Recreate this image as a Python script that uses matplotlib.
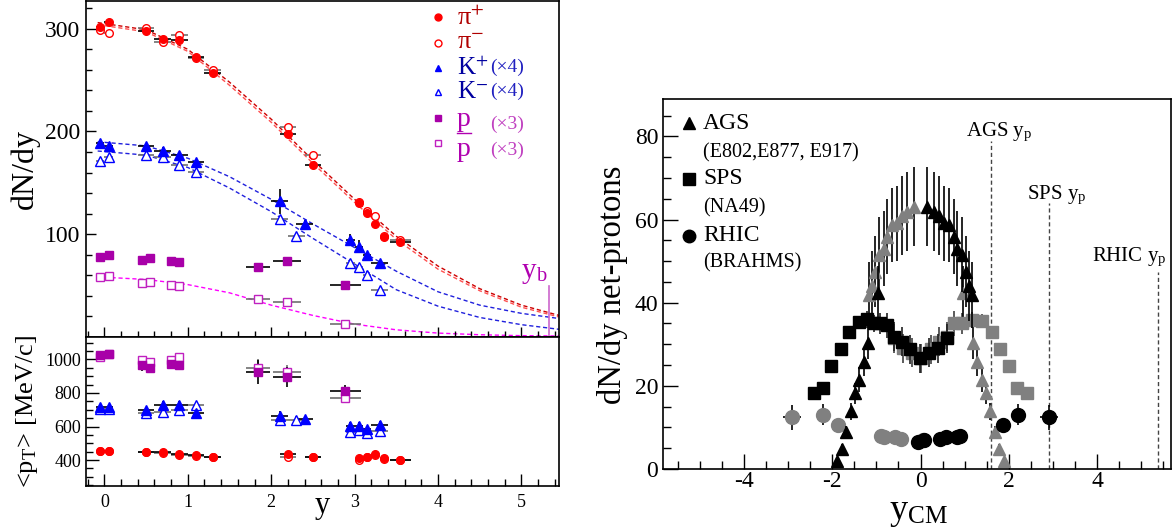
import matplotlib.pyplot as plt
from matplotlib.ticker import MultipleLocator

plt.rcParams["font.family"] = ["Liberation Serif", "DejaVu Serif"]
plt.rcParams["mathtext.fontset"] = "stix"
plt.rcParams["axes.unicode_minus"] = False

# ---------------- left panel data (BRAHMS spectra vs rapidity) ----------------
pi_rap = [-0.05, 0.05, 0.5, 0.7, 0.9, 1.1, 1.3, 2.2, 2.5, 3.05, 3.15, 3.25, 3.35, 3.55]
pi_xerr = [0.05, 0.05, 0.1, 0.1, 0.1, 0.1, 0.1, 0.1, 0.1, 0.0, 0.0, 0.0, 0.0, 0.12]
pip_dndy = [302, 306.5, 298, 290, 289, 272.5, 257, 198, 167, 130, 121, 110, 97, 92]
pim_dndy = [299, 296, 300.5, 287, 293.5, 271.5, 259.5, 204, 177, 131.5, 123, 118, 98, 94]
pip_pt = [454, 454, 450, 446, 434, 428, 418, 434, 420, 410, 420, 434, 410, 400]
pim_pt = [452, 452, 448, 444, 432, 426, 416, 416, 418, 400, 416, 430, 408, 398]

kp_rap = [-0.05, 0.05, 0.5, 0.7, 0.9, 1.1, 2.1, 2.4, 2.95, 3.05, 3.15, 3.3]
km_rap = [-0.05, 0.05, 0.5, 0.7, 0.9, 1.1, 2.1, 2.3, 2.95, 3.05, 3.15, 3.3]
k_xerr = [0.05, 0.05, 0.1, 0.1, 0.1, 0.1, 0.1, 0.1, 0.05, 0.05, 0.05, 0.1]
kp_dndy = [189, 186, 186, 181.5, 177, 170.5, 132, 110, 94.5, 88, 80, 72]
km_dndy = [171, 175.5, 177, 175.5, 167, 161, 115, 98.5, 72.5, 68, 60.5, 45.5]
kp_dndy_err = [3, 3, 3, 3, 3, 3, 12, 4, 6, 6, 3, 3]
km_dndy_err = [2, 2, 2, 2, 2, 2, 3, 3, 3, 3, 3, 3]
kp_pt = [714, 714, 696, 730, 730, 680, 660, 644, 604, 604, 584, 610]
km_pt = [704, 704, 680, 684, 696, 730, 640, 640, 570, 580, 560, 576]
kp_pt_err = [15, 15, 20, 25, 25, 20, 30, 20, 25, 25, 20, 20]
km_pt_err = [10, 10, 15, 20, 20, 15, 20, 20, 20, 20, 15, 15]

p_rap = [-0.05, 0.05, 0.45, 0.55, 0.8, 0.9, 1.84, 2.19, 2.89]
p_xerr = [0.05, 0.05, 0.05, 0.05, 0.05, 0.05, 0.14, 0.17, 0.19]
pbar_dndy = [78, 79.6, 75, 76.4, 74, 73, 68.6, 74, 50.5]
p_dndy = [58.6, 59, 53, 53.7, 51, 49.5, 37, 34.3, 13]
pbar_pt = [1028, 1030, 964, 948, 974, 968, 924, 894, 810]
p_pt = [1014, 1030, 998, 984, 998, 1014, 950, 924, 770]
pbar_pt_err = [15, 15, 30, 30, 30, 30, 70, 60, 40]
p_pt_err = [10, 10, 20, 20, 20, 20, 50, 40, 30]

# dashed fit curves
fit_rap = [-0.08, 0.5, 1.0, 1.5, 2.0, 2.5, 3.0, 3.5, 4.0, 4.5, 5.0, 5.45]
pip_fit = [306, 299, 280, 248, 212, 172, 134, 98, 69, 47, 31, 21]
pim_fit = [304, 297, 278, 245, 209, 169, 131, 95, 66, 45, 29, 19.5]
kp_fit = [190, 186, 174, 156, 134, 110, 87, 64, 44, 31, 23, 18]
km_fit = [181, 177, 165, 145, 122, 96, 71, 46, 30, 19, 12, 7.5]
p_fit = [58.5, 56, 51, 43, 31, 21, 12.5, 7, 3.8, 2.2, 1.3, 1.0]

beam_rap = 5.33

# ---------------- right panel data (net protons vs y_CM) ----------------
ags_y = [-1.89, -1.77, -1.68, -1.58, -1.49, -1.39, -1.28, -1.18, -0.97,
         0.15, 0.30, 0.41, 0.53, 0.64, 0.75, 0.83, 0.94, 1.02, 1.09, 1.17]
ags_dndy = [1.9, 4.9, 8.9, 13.9, 18.2, 21.5, 25.8, 30.4, 42.3,
            63.1, 61.9, 60.9, 59.1, 58.7, 55.9, 53.0, 51.5, 47.5, 44.0, 41.9]
ags_err = [0.8, 1.0, 1.5, 2.0, 2.5, 3.0, 3.5, 4.0, 6.5,
           9.5, 9.5, 9.5, 9.0, 9.0, 9.0, 9.0, 9.0, 8.5, 8.5, 8.0]
ags_refl_y = [-1.17, -1.09, -1.02, -0.94, -0.83, -0.75, -0.64, -0.53, -0.41, -0.30, -0.15,
              0.97, 1.18, 1.28, 1.39, 1.49, 1.58, 1.68, 1.77, 1.89]
ags_refl_dndy = [41.9, 44.0, 47.5, 51.5, 53.0, 55.9, 58.7, 59.1, 60.9, 61.9, 63.1,
                 42.3, 30.4, 25.8, 21.5, 18.2, 13.9, 8.9, 4.9, 1.9]
ags_refl_err = [8.0, 8.5, 8.5, 9.0, 9.0, 9.0, 9.0, 9.0, 9.5, 9.5, 9.5,
                6.5, 4.0, 3.5, 3.0, 2.5, 2.0, 1.5, 1.0, 0.8]

sps_y = [-2.42, -2.21, -2.02, -1.81, -1.61, -1.40, -1.21, -1.06, -0.91, -0.75,
         -0.60, -0.41, -0.23, -0.02, 0.19, 0.39, 0.60]
sps_dndy = [18.2, 19.4, 24.8, 28.8, 33.0, 35.4, 36.0, 35.0, 35.0, 34.6,
            31.8, 30.6, 28.8, 26.6, 28.0, 29.0, 31.4]
sps_err = [1.5, 1.5, 1.0, 1.0, 1.0, 1.5, 2.0, 2.0, 2.5, 3.0,
           3.5, 3.5, 3.5, 3.5, 3.5, 3.5, 3.5]
sps_refl_y = [-0.60, -0.39, -0.19, 0.02, 0.23, 0.41, 0.60, 0.75, 0.94, 1.17,
              1.40, 1.62, 1.81, 2.00, 2.19, 2.40]
sps_refl_dndy = [31.4, 29.0, 28.0, 26.6, 28.8, 30.6, 31.8, 35.0, 35.0, 35.8,
                 35.7, 33.0, 28.8, 24.7, 19.4, 18.2]
sps_refl_err = [3.5, 3.5, 3.5, 3.5, 3.5, 3.5, 3.5, 3.0, 2.5, 2.0,
                1.5, 1.0, 1.0, 1.0, 1.5, 1.5]

rhic_y = [-0.05, 0.08, 0.45, 0.57, 0.83, 0.90, 1.86, 2.21, 2.91]
rhic_dndy = [6.5, 6.9, 7.3, 7.7, 7.7, 7.9, 10.5, 13.1, 12.5]
rhic_err = [0.5, 0.5, 0.5, 0.5, 0.5, 0.5, 1.5, 2.5, 3.0]
rhic_xerr = [0, 0, 0, 0, 0, 0, 0, 0.1, 0.2]
rhic_refl_y = [-2.91, -2.21, -1.86, -0.90, -0.83, -0.57, -0.45, 0.05]
rhic_refl_dndy = [12.5, 13.1, 10.5, 7.9, 7.7, 7.7, 7.3, 6.9]
rhic_refl_err = [3.0, 2.5, 1.5, 0.5, 0.5, 0.5, 0.5, 0.5]
rhic_refl_xerr = [0.2, 0.1, 0, 0, 0, 0, 0, 0]

proj_rap = [1.6, 2.9, 5.37]
proj_line_top = [79, 64, 47.5]
proj_labels = ["AGS y$_\\mathregular{p}$", "SPS y$_\\mathregular{p}$", "RHIC y$_\\mathregular{p}$"]

RED = "#ff0000"
BLUE = "#0000ff"
MAG = "#a800a8"
MAG_OPEN = "#c020c0"
GRAY = "#808080"


def draw_points(ax, x, y, xerr, yerr, marker, color, filled, ms, ecolor, z=3):
    ax.errorbar(x, y, xerr=xerr, yerr=yerr, fmt=marker, ms=ms,
                mfc=color if filled else "white", mec=color, mew=1.0,
                ecolor=ecolor, elinewidth=1.2, capsize=0, zorder=z)


W, H = 1174, 527


def px_rect(x0, y0, x1, y1):
    return [x0 / W, 1 - y1 / H, (x1 - x0) / W, (y1 - y0) / H]


fig = plt.figure(figsize=(11.74, 5.27), dpi=100)
ax_top = fig.add_axes(px_rect(86, 1, 559, 337))
ax_bot = fig.add_axes(px_rect(86, 337, 559, 486))
ax_r = fig.add_axes(px_rect(663, 99, 1171, 469))

# ---- top-left: dN/dy
dash = (0, (3, 2))
ax_top.plot(fit_rap, pip_fit, color="#cc0000", lw=1.0, ls=dash, zorder=1)
ax_top.plot(fit_rap, pim_fit, color="#ff5050", lw=1.0, ls=dash, zorder=1)
ax_top.plot(fit_rap, kp_fit, color="#2020dd", lw=1.0, ls=dash, zorder=1)
ax_top.plot(fit_rap, km_fit, color="#2020dd", lw=1.0, ls=dash, zorder=1)
ax_top.plot(fit_rap, p_fit, color="#ff00ff", lw=1.0, ls=dash, zorder=1)

draw_points(ax_top, pi_rap, pim_dndy, pi_xerr, None, "o", RED, False, 5.5, "#707070")
draw_points(ax_top, pi_rap, pip_dndy, pi_xerr, None, "o", RED, True, 5.5, "black")
draw_points(ax_top, km_rap, km_dndy, k_xerr, km_dndy_err, "^", BLUE, False, 6.5, "#707070")
draw_points(ax_top, kp_rap, kp_dndy, k_xerr, kp_dndy_err, "^", BLUE, True, 6.5, "black")
draw_points(ax_top, p_rap, p_dndy, p_xerr, None, "s", MAG_OPEN, False, 5.5, "#707070")
draw_points(ax_top, p_rap, pbar_dndy, p_xerr, None, "s", MAG, True, 5.5, "black")

ax_top.plot([beam_rap, beam_rap], [0, 50], color="#cc66cc", lw=1.2)
ax_top.text(5.0, 57, "y$_\\mathregular{b}$", color="#b000b0", fontsize=21, ha="left", va="baseline")

ax_top.set_xlim(-0.22, 5.45)
ax_top.set_ylim(0, 327)
ax_top.yaxis.set_minor_locator(MultipleLocator(20))
ax_top.xaxis.set_major_locator(MultipleLocator(1))
ax_top.xaxis.set_minor_locator(MultipleLocator(0.2))
ax_top.set_yticks([100, 200, 300])
ax_top.tick_params(which="both", direction="in", labelbottom=False, labelsize=17, pad=4)
ax_top.tick_params(which="major", length=7, width=1)
ax_top.tick_params(which="minor", length=4, width=1)
ax_top.set_ylabel("dN/dy", fontsize=23)
ax_top.yaxis.set_label_coords(-0.129, 0.5)
ax_top.yaxis.label.set_verticalalignment("center")

# legend, left panel
leg_rows = [0.951, 0.876, 0.80, 0.73, 0.651, 0.576]
leg_marks = [("o", RED, True), ("o", RED, False), ("^", BLUE, True),
             ("^", BLUE, False), ("s", MAG, True), ("s", MAG_OPEN, False)]
for yf, (m, c, f) in zip(leg_rows, leg_marks):
    ax_top.plot([0.7435], [yf], marker=m, ms=5, mfc=c if f else "white", mec=c,
                transform=ax_top.transAxes, clip_on=False, ls="none")
ax_top.text(0.784, leg_rows[0], "π$^{+}$", color="#b00000", fontsize=19, va="center", transform=ax_top.transAxes)
ax_top.text(0.784, leg_rows[1], "π$^{-}$", color="#b00000", fontsize=19, va="center", transform=ax_top.transAxes)
ax_top.text(0.784, leg_rows[2], "K$^{+}$", color="#0000a0", fontsize=18, va="center", transform=ax_top.transAxes)
ax_top.text(0.784, leg_rows[3], "K$^{-}$", color="#0000a0", fontsize=18, va="center", transform=ax_top.transAxes)
ax_top.text(0.784, 0.6265, "p", color="#b000b0", fontsize=20, va="baseline", transform=ax_top.transAxes)
ax_top.plot([0.784, 0.813], [0.607, 0.607], color="#b000b0", lw=1.0, transform=ax_top.transAxes)
ax_top.text(0.784, 0.540, "p", color="#b000b0", fontsize=20, va="baseline", transform=ax_top.transAxes)
for yf, txt, col in [(0.802, "(×4)", "#2020c0"), (0.732, "(×4)", "#2020c0"),
                     (0.634, "(×3)", "#c040c0"), (0.557, "(×3)", "#c040c0")]:
    ax_top.text(0.854, yf, txt, color=col, fontsize=14, va="center", transform=ax_top.transAxes)

# ---- bottom-left: <pT>
draw_points(ax_bot, pi_rap, pim_pt, pi_xerr, None, "o", RED, False, 5.5, "#707070")
draw_points(ax_bot, pi_rap, pip_pt, pi_xerr, None, "o", RED, True, 5.5, "black")
draw_points(ax_bot, km_rap, km_pt, k_xerr, km_pt_err, "^", BLUE, False, 6.5, "#707070")
draw_points(ax_bot, kp_rap, kp_pt, k_xerr, kp_pt_err, "^", BLUE, True, 6.5, "black")
draw_points(ax_bot, p_rap, p_pt, p_xerr, p_pt_err, "s", MAG_OPEN, False, 5.5, "#707070")
draw_points(ax_bot, p_rap, pbar_pt, p_xerr, pbar_pt_err, "s", MAG, True, 5.5, "black")

ax_bot.set_xlim(-0.22, 5.45)
ax_bot.set_ylim(245, 1134)
ax_bot.set_yticks([400, 600, 800, 1000])
ax_bot.yaxis.set_minor_locator(MultipleLocator(50))
ax_bot.xaxis.set_major_locator(MultipleLocator(1))
ax_bot.xaxis.set_minor_locator(MultipleLocator(0.2))
ax_bot.tick_params(which="both", direction="in", labelsize=13)
ax_bot.tick_params(axis="x", pad=6)
ax_bot.tick_params(which="major", length=9, width=1)
ax_bot.tick_params(which="minor", length=5, width=1)
ax_bot.set_ylabel("<p$_\\mathregular{T}$> [MeV/c]", fontsize=19)
ax_bot.yaxis.set_label_coords(-0.125, 0.5)
ax_bot.yaxis.label.set_verticalalignment("center")
ax_bot.set_xlabel("y", fontsize=22)
ax_bot.xaxis.set_label_coords(0.5, -0.13)
ax_bot.xaxis.label.set_verticalalignment("center")

# ---- right: net protons
ax_r.vlines(proj_rap, 0, proj_line_top, colors="#444444", lw=1.0, linestyles=dash)
label_pos = [(1.02, 80), (2.42, 64.9), (3.89, 49.9)]
for (lx, ly), txt in zip(label_pos, proj_labels):
    ax_r.text(lx, ly, txt, fontsize=15, ha="left", va="baseline")

draw_points(ax_r, sps_refl_y, sps_refl_dndy, None, sps_refl_err, "s", GRAY, True, 8, "#404040", z=2)
draw_points(ax_r, ags_refl_y, ags_refl_dndy, None, ags_refl_err, "^", GRAY, True, 9, "black", z=2)
draw_points(ax_r, rhic_refl_y, rhic_refl_dndy, rhic_refl_xerr, rhic_refl_err, "o", GRAY, True, 10, "black", z=2)
draw_points(ax_r, sps_y, sps_dndy, None, sps_err, "s", "black", True, 8, "#202020", z=3)
draw_points(ax_r, ags_y, ags_dndy, None, ags_err, "^", "black", True, 9, "black", z=3)
draw_points(ax_r, rhic_y, rhic_dndy, rhic_xerr, rhic_err, "o", "black", True, 10, "black", z=3)

r_leg = [(0.935, "^", "AGS", 0.855, "(E802,E877, E917)"),
         (0.784, "s", "SPS", 0.705, "(NA49)"),
         (0.630, "o", "RHIC", 0.556, "(BRAHMS)")]
for yf, m, name, yf2, sub in r_leg:
    ax_r.plot([0.052], [yf], marker=m, ms=9, color="black", ls="none",
              transform=ax_r.transAxes, clip_on=False)
    ax_r.text(0.079, yf, name, fontsize=17, va="center", transform=ax_r.transAxes)
    ax_r.text(0.079, yf2, sub, fontsize=14.5, va="center", transform=ax_r.transAxes)

ax_r.set_xlim(-5.83, 5.67)
ax_r.set_ylim(0, 89)
ax_r.set_yticks([0, 20, 40, 60, 80])
ax_r.yaxis.set_minor_locator(MultipleLocator(5))
ax_r.set_xticks([-4, -2, 0, 2, 4])
ax_r.xaxis.set_minor_locator(MultipleLocator(0.5))
ax_r.tick_params(which="both", direction="in", labelsize=17)
ax_r.tick_params(axis="x", pad=1.5)
ax_r.tick_params(which="major", length=11, width=1)
ax_r.tick_params(which="minor", length=6, width=1)
ax_r.set_ylabel("dN/dy net-protons", fontsize=23.5)
ax_r.yaxis.set_label_coords(-0.0997, 0.497)
ax_r.yaxis.label.set_verticalalignment("center")
ax_r.set_xlabel("y$_\\mathregular{CM}$", fontsize=26)
ax_r.xaxis.set_label_coords(0.504, -0.118)
ax_r.xaxis.label.set_verticalalignment("center")

for ax in (ax_top, ax_bot, ax_r):
    for sp in ax.spines.values():
        sp.set_linewidth(1.2)

fig.savefig("out.png", dpi=100)
